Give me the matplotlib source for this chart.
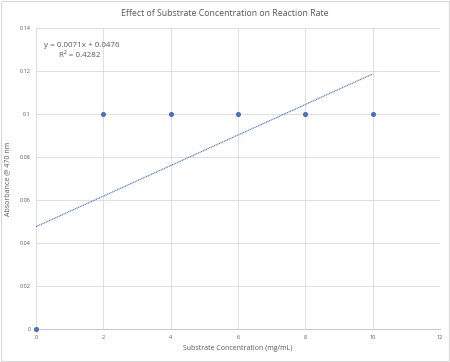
import numpy as np
import matplotlib
matplotlib.use('Agg')
import matplotlib.pyplot as plt

# Data
conc = [0, 2, 4, 6, 8, 10]
absorb = [0, 0.1, 0.1, 0.1, 0.1, 0.1]
slope, intercept = 0.0071, 0.0476
eq_text = 'y = 0.0071x + 0.0476'
r2_text = 'R² = 0.4282'

TEXT = '#595959'
GRID = '#d9d9d9'
BLUE = '#4472C4'

plt.rcParams['font.family'] = ['Open Sans', 'DejaVu Sans']

fig = plt.figure(figsize=(4.5, 3.62), dpi=100)
ax = fig.add_axes([0.08, 0.091, 0.898, 0.832])

ax.scatter(conc, absorb, s=7, color=BLUE, zorder=3, clip_on=False)

# linear trendline over data range
xs = np.array([min(conc), max(conc)])
ax.plot(xs, slope * xs + intercept, color=BLUE, linestyle=(0, (1, 0.6)),
        linewidth=0.8, zorder=2)

ax.set_xlim(0, 12)
ax.set_ylim(0, 0.14)
ax.set_xticks(range(0, 13, 2))
ax.set_yticks([0, 0.02, 0.04, 0.06, 0.08, 0.1, 0.12, 0.14])
ax.set_yticklabels(['0', '0.02', '0.04', '0.06', '0.08', '0.1', '0.12', '0.14'])
ax.grid(True, color=GRID, linewidth=0.6)
ax.set_axisbelow(True)
for side in ['top', 'right', 'left']:
    ax.spines[side].set_visible(False)
ax.spines['bottom'].set_color('#bfbfbf')
ax.spines['bottom'].set_linewidth(0.6)
ax.tick_params(length=0, labelsize=4, colors=TEXT, pad=4)

ax.set_xlabel('Substrate Concentration (mg/mL)', fontsize=5, color=TEXT, labelpad=4)
ax.set_ylabel('Absorbance @ 470 nm', fontsize=5, color=TEXT, labelpad=6)
fig.text(0.5, 0.962, 'Effect of Substrate Concentration on Reaction Rate',
         ha='center', va='center', fontsize=6.3, color=TEXT)

ax.text(0.02, 0.943, eq_text, transform=ax.transAxes, fontsize=5.8, color=TEXT,
        ha='left', va='center')
ax.text(0.057, 0.908, r2_text, transform=ax.transAxes, fontsize=5.8, color=TEXT,
        ha='left', va='center')

# light frame around chart area
fig.patches.append(plt.Rectangle((0.002, 0.003), 0.996, 0.994, transform=fig.transFigure,
                                 fill=False, edgecolor='#d9d9d9', linewidth=0.8))

fig.savefig('out.png', dpi=100)
